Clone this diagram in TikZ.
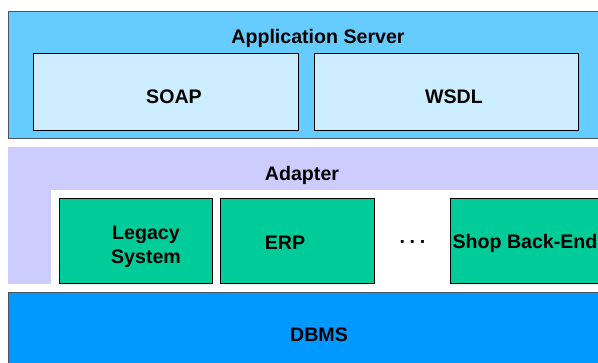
\documentclass[tikz,border=0pt]{standalone}
\usepackage{fontspec}
\setmainfont{Liberation Sans}
\definecolor{appblue}{HTML}{66CCFF}
\definecolor{lightblue}{HTML}{CCEEFF}
\definecolor{lavender}{HTML}{CCCCFF}
\definecolor{sysgreen}{HTML}{00CC99}
\definecolor{dbblue}{HTML}{0099FF}
\definecolor{edgegray}{HTML}{4A5560}
\tikzset{
  panel/.style={draw=edgegray, line width=1pt, anchor=north west, inner sep=0pt},
  inbox/.style={draw=black, line width=0.9pt, anchor=north west, inner sep=0pt},
  lbl/.style={font=\fontsize{19.6}{24}\selectfont\bfseries, anchor=base, inner sep=0pt, align=center}
}
\begin{document}
\begin{tikzpicture}[x=1pt,y=-1pt]
\useasboundingbox (0,0) rectangle (598,363);
\clip (0,0) rectangle (598,363);
\fill[white] (0,0) rectangle (598,363);
% Application server
\node[panel, fill=appblue, minimum width=600pt, minimum height=127pt] (app) at (8,11) {};
\node[inbox, fill=lightblue, minimum width=265pt, minimum height=77pt] (soap) at (33,53) {};
\node[inbox, fill=lightblue, minimum width=264pt, minimum height=77pt] (wsdl) at (314,53) {};
\node[lbl] (apptxt) at (318,44) {Application Server};
\node[lbl] (soaptxt) at (174,104) {SOAP};
\node[lbl] (wsdltxt) at (454,104) {WSDL};
% Adapter
\node[anchor=north west, fill=lavender, inner sep=0pt, minimum width=600pt, minimum height=137pt] (adapter) at (8,147) {};
\node[anchor=north west, fill=white, inner sep=0pt, minimum width=560pt, minimum height=100pt] (inner) at (51,190) {};
\node[lbl] (adtxt) at (302,181) {Adapter};
\node[inbox, fill=sysgreen, minimum width=153pt, minimum height=85pt] (legacy) at (59,198) {};
\node[inbox, fill=sysgreen, minimum width=154pt, minimum height=85pt] (erp) at (220,198) {};
\node[inbox, fill=sysgreen, minimum width=170pt, minimum height=85pt] (shop) at (450,198) {};
\node[lbl] (legtxt) at (146,264) {Legacy\\System};
\node[lbl] (erptxt) at (285,250) {ERP};
\node[lbl] (dots) at (413,249) {·\hspace{3.5pt}·\hspace{3.5pt}·};
\node[lbl] (shoptxt) at (525,249) {Shop Back-End};
% DBMS
\node[panel, fill=dbblue, minimum width=600pt, minimum height=80pt] (dbms) at (8,292) {};
\node[lbl] (dbtxt) at (319,342) {DBMS};
\end{tikzpicture}
\end{document}
